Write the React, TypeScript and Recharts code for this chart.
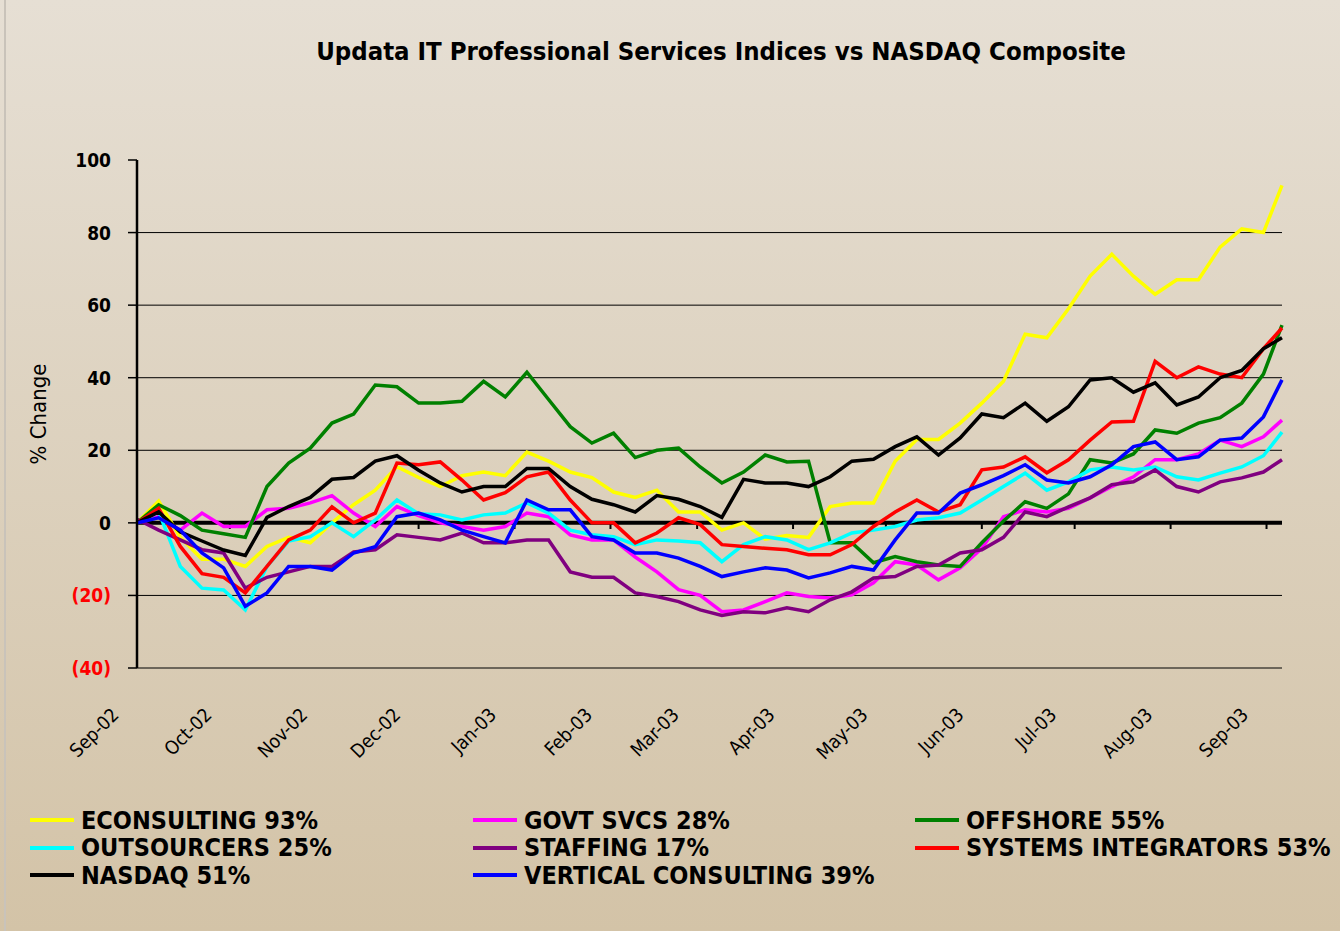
import { CartesianGrid, Line, LineChart, ReferenceLine, XAxis, YAxis } from 'recharts';

const FONT = '"DejaVu Sans Condensed", "DejaVu Sans", sans-serif';

// weekly observations, as days since the first one (last point is the latest close)
const weekDays = Array.from({ length: 53 }, (_, i) => i * 7).concat(370);

const monthTicks = [0, 30, 61, 91, 122, 153, 181, 212, 242, 273, 303, 334, 365];
const monthLabels = ['Sep-02', 'Oct-02', 'Nov-02', 'Dec-02', 'Jan-03', 'Feb-03', 'Mar-03', 'Apr-03', 'May-03', 'Jun-03', 'Jul-03', 'Aug-03', 'Sep-03'];
const yTicks = [-40, -20, 0, 20, 40, 60, 80, 100];
const gridValues = [-40, -20, 20, 40, 60, 80];

const econsulting = [0, 6, -4, -10, -10, -12, -6.5, -4, -5.5, 0, 5, 9, 15.5, 12.5, 10, 13, 14, 13, 19.5, 17, 14, 12.5, 8.5, 7, 9, 3, 3, -2, 0, -4.5, -3.5, -4, 4.5, 5.5, 5.5, 17, 23, 23, 27.5, 33, 39, 52, 51, 59, 68, 74, 68, 63, 67, 67, 76, 81, 80, 93];
const govtSvcs = [0, 1.7, -2, 2.7, -1, -1, 3.6, 4, 5.5, 7.5, 2.7, -1, 4.5, 2, 0, -1, -2, -1, 2.7, 1.7, -3.3, -4.7, -4.7, -9.4, -13.5, -18.4, -20, -24.5, -24, -21.7, -19.3, -20.3, -20.7, -19.8, -16.5, -10.7, -11.6, -15.7, -12.4, -7, 1.7, 3.6, 3, 4, 6.9, 10, 12.7, 17.4, 17.4, 19, 22.8, 21, 23.7, 28.3];
const offshore = [0, 5, 2, -2, -3, -4, 10, 16.5, 20.6, 27.5, 30, 38, 37.5, 33, 33, 33.5, 39, 34.7, 41.5, 34, 26.5, 22, 24.7, 18, 20, 20.6, 15.4, 11, 14, 18.7, 16.8, 17, -5.5, -5.5, -11, -9.3, -10.7, -11.6, -12, -5.5, 0.5, 5.8, 4, 8, 17.4, 16.5, 19, 25.6, 24.7, 27.5, 29, 33, 41, 54.5];
const outsourcers = [0, 3, -12, -18, -18.5, -24, -12, -5, -3.8, 0, -3.8, 0.8, 6.3, 2.5, 2.2, 0.8, 2.2, 2.7, 5.5, 2.7, -2, -3.3, -3.8, -6, -4.7, -5, -5.5, -10.7, -6, -3.8, -4.7, -7.4, -5.5, -2.8, -2, -1, 0.8, 1.4, 2.7, 6.3, 10, 13.7, 9, 11.3, 14.6, 15.4, 14.6, 15.4, 12.7, 11.8, 13.7, 15.4, 18.5, 25];
const staffing = [1, -2, -4.7, -7.4, -8.3, -18, -15, -13.5, -12, -12, -8, -7.4, -3.3, -4, -4.7, -2.8, -5.5, -5.5, -4.7, -4.7, -13.5, -15, -15, -19.3, -20.3, -21.7, -24, -25.5, -24.5, -24.8, -23.4, -24.5, -21.2, -19, -15.2, -14.8, -12, -11.6, -8.3, -7.4, -4, 3, 1.7, 4.4, 6.9, 10.5, 11.3, 14.6, 10, 8.5, 11.3, 12.4, 14, 17.4];
const systemsIntegrators = [0, 4, -6.5, -14, -15, -19.3, -12, -4.7, -2, 4.4, 0, 2.7, 16.5, 16, 16.8, 11.8, 6.3, 8.3, 12.7, 14, 6.3, 0, 0, -5.5, -2.8, 1.4, -0.5, -6, -6.5, -7, -7.4, -8.8, -8.8, -6, -1, 3, 6.3, 3, 5, 14.6, 15.4, 18.2, 13.8, 17.4, 22.8, 27.8, 28, 44.5, 40, 43, 41, 40, 48, 53.7];
const nasdaq = [0, 3, -2.5, -5, -7.5, -9, 1.5, 4.5, 7, 12, 12.5, 17, 18.5, 14.5, 11, 8.5, 10, 10, 15, 15, 10, 6.5, 5, 3, 7.5, 6.5, 4.5, 1.5, 12, 11, 11, 10, 12.7, 17, 17.5, 21, 23.7, 18.7, 23.4, 30, 29, 33, 28, 32, 39.4, 40, 36, 38.6, 32.5, 34.7, 40, 42, 48, 51];
const verticalConsulting = [0, 1.4, -2, -8.3, -12.4, -23, -19.3, -12, -12, -13, -8.3, -6.6, 1.7, 2.7, 0.8, -2, -3.8, -5.5, 6.3, 3.6, 3.6, -3.8, -4.7, -8.3, -8.3, -9.7, -12, -14.8, -13.5, -12.4, -13, -15.2, -13.8, -12, -13, -4.7, 2.7, 2.7, 8.2, 10.5, 13, 16, 11.8, 11, 12.7, 16, 21, 22.3, 17.4, 18.2, 22.8, 23.4, 29.2, 39.4];

const seriesList = [
    { key: 'econsulting', name: 'ECONSULTING 93%', color: '#ffff00', values: econsulting },
    { key: 'govtSvcs', name: 'GOVT SVCS 28%', color: '#ff00ff', values: govtSvcs },
    { key: 'offshore', name: 'OFFSHORE 55%', color: '#008000', values: offshore },
    { key: 'outsourcers', name: 'OUTSOURCERS 25%', color: '#00ffff', values: outsourcers },
    { key: 'staffing', name: 'STAFFING 17%', color: '#800080', values: staffing },
    { key: 'systemsIntegrators', name: 'SYSTEMS INTEGRATORS 53%', color: '#ff0000', values: systemsIntegrators },
    { key: 'nasdaq', name: 'NASDAQ 51%', color: '#000000', values: nasdaq },
    { key: 'verticalConsulting', name: 'VERTICAL CONSULTING 39%', color: '#0000ff', values: verticalConsulting },
];

const data = weekDays.map((day, i) => {
    const row: Record<string, number> = { day };
    seriesList.forEach((s) => { row[s.key] = s.values[i]; });
    return row;
});

function YTick({ x, y, payload }: any) {
    const v = payload.value;
    return (
        <text x={x} y={y} dy={7} textAnchor="end" fill={v < 0 ? '#ff0000' : '#000'} fontSize={19} fontWeight="bold" fontFamily={FONT}>
            {v < 0 ? `(${-v})` : v}
        </text>
    );
}

function XTick({ x, y, payload }: any) {
    const label = monthLabels[monthTicks.indexOf(payload.value)];
    return (
        <g transform={`translate(${x - 17},${y + 40})`}>
            <text textAnchor="end" transform="rotate(-45)" fontSize={19} fontFamily={FONT} fill="#000">{label}</text>
        </g>
    );
}

function AxisTitle({ viewBox }: any) {
    const cx = viewBox.x + 40;
    const cy = viewBox.y + viewBox.height / 2;
    return (
        <text x={cx} y={cy} transform={`rotate(-90 ${cx} ${cy})`} textAnchor="middle" dominantBaseline="middle" fontSize={22} fontFamily={FONT} fill="#000">
            % Change
        </text>
    );
}

export default function App() {
    return (
        <div style={{
            position: 'absolute', left: 0, top: 0, width: 1340, height: 931, overflow: 'hidden',
            background: 'linear-gradient(#e6dfd4, #d3c3a7)', fontFamily: FONT,
        }}>
            <div style={{ position: 'absolute', left: 4, top: 0, width: 2, height: 931, background: '#c9c3ba' }} />
            <div style={{
                position: 'absolute', left: 721, top: 36, transform: 'translateX(-50%)', whiteSpace: 'nowrap',
                fontSize: 25.5, fontWeight: 'bold', color: '#000', lineHeight: '30px',
            }}>
                Updata IT Professional Services Indices vs NASDAQ Composite
            </div>

            <div style={{ position: 'absolute', left: 0, top: 0 }}>
                <LineChart width={1340} height={770} data={data} margin={{ top: 160, right: 58, left: 0, bottom: 0 }}>
                    <CartesianGrid vertical={false} horizontalValues={gridValues} stroke="#000" strokeWidth={1} strokeOpacity={1} />
                    <XAxis
                        dataKey="day"
                        type="number"
                        domain={[0, 370]}
                        ticks={monthTicks}
                        tick={<XTick />}
                        tickLine={false}
                        axisLine={false}
                        height={102}
                        interval={0}
                    />
                    <YAxis
                        type="number"
                        domain={[-40, 100]}
                        ticks={yTicks}
                        tick={<YTick />}
                        width={137}
                        tickSize={9}
                        tickMargin={17}
                        tickLine={{ stroke: '#000', strokeWidth: 1.5 }}
                        axisLine={{ stroke: '#000', strokeWidth: 2.5 }}
                        interval={0}
                        label={<AxisTitle />}
                    />
                    <ReferenceLine y={0} stroke="#000" strokeWidth={4} />
                    {monthTicks.slice(1).map((d) => (
                        <ReferenceLine key={d} segment={[{ x: d, y: 0 }, { x: d, y: -1.7 }]} stroke="#000" strokeWidth={2} />
                    ))}
                    {seriesList.map((s) => (
                        <Line
                            key={s.key}
                            type="linear"
                            dataKey={s.key}
                            name={s.name}
                            stroke={s.color}
                            strokeWidth={3.5}
                            dot={false}
                            isAnimationActive={false}
                        />
                    ))}
                </LineChart>
            </div>

            {seriesList.map((s, i) => {
                const col = i % 3;
                const row = Math.floor(i / 3);
                const left = [30, 473, 915][col];
                const top = 820 + row * 27.5;
                return (
                    <div key={s.key} style={{ position: 'absolute', left, top: top - 16, height: 32, display: 'flex', alignItems: 'center', whiteSpace: 'nowrap' }}>
                        <span style={{ display: 'inline-block', width: 44, height: 4, background: s.color, marginRight: 7 }} />
                        <span style={{ fontSize: 25, fontWeight: 'bold', color: '#000' }}>{s.name}</span>
                    </div>
                );
            })}
        </div>
    );
}
